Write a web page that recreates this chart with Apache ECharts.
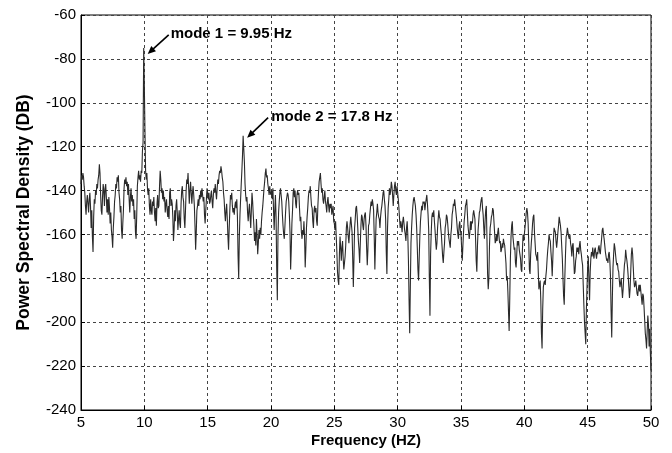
<!DOCTYPE html>
<html>
<head>
<meta charset="utf-8">
<script src="https://cdn.jsdelivr.net/npm/echarts/dist/echarts.min.js"></script>
<style>
  html, body { margin: 0; padding: 0; background: #fff; }
  #chart { width: 672px; height: 453px; }
</style>
</head>
<body>
<div id="chart"></div>
<script>
// Power spectral density estimate, sampled every 0.05 Hz from 5 Hz to 50 Hz (dB).
const freqStart = 5;
const freqStep = 0.05;

const psd05to10 = [
  -137,-133,-135,-132,-134,-138,-141,-147,-151,-145,-142,-146,-150,-144,-141,-147,-157,-149,-161,-168,
  -152,-144,-146,-140,-142,-137,-139,-135,-133,-128,-132,-142,-149,-151,-143,-137,-140,-147,-139,-137,
  -143,-150,-144,-151,-143,-148,-155,-150,-158,-161,-166,-157,-152,-145,-142,-137,-139,-134,-136,-133,
  -141,-144,-150,-147,-158,-162,-155,-149,-139,-135,-137,-134,-138,-136,-142,-137,-144,-150,-143,-139,
  -145,-142,-147,-144,-153,-149,-159,-162,-151,-138,-134,-131,-135,-133,-136,-131,-132,-122,-118,-75
];
const psd10to15 = [
  -92,-113,-131,-135,-132,-139,-142,-139,-147,-151,-144,-149,-151,-145,-147,-143,-150,-154,-148,-156,
  -146,-142,-148,-147,-138,-131,-135,-141,-139,-144,-140,-145,-143,-150,-146,-144,-149,-152,-147,-153,
  -141,-139,-147,-144,-146,-152,-163,-158,-149,-154,-147,-144,-150,-158,-153,-149,-155,-157,-146,-140,
  -138,-143,-145,-153,-157,-149,-140,-135,-137,-132,-139,-146,-140,-136,-141,-146,-141,-138,-142,-147,
  -156,-167,-159,-149,-147,-144,-147,-142,-144,-140,-143,-139,-142,-145,-143,-151,-155,-149,-144,-139
];
const psd15to20 = [
  -141,-144,-141,-146,-145,-142,-140,-145,-148,-142,-139,-141,-137,-141,-144,-139,-135,-137,-133,-131,
  -132,-129,-131,-134,-136,-141,-144,-150,-154,-149,-146,-153,-161,-167,-157,-149,-142,-144,-141,-147,
  -150,-148,-151,-147,-145,-148,-144,-152,-170,-180,-161,-151,-144,-137,-131,-124,-115,-121,-127,-137,
  -142,-145,-143,-150,-154,-149,-146,-152,-157,-149,-141,-145,-151,-156,-163,-159,-165,-153,-160,-169,
  -164,-158,-162,-157,-160,-154,-150,-147,-143,-139,-136,-132,-130,-134,-133,-137,-139,-142,-138,-141
];
const psd20to25 = [
  -142,-140,-144,-139,-149,-158,-149,-142,-152,-175,-190,-161,-150,-145,-141,-139,-142,-145,-151,-156,
  -160,-162,-156,-150,-145,-143,-141,-142,-145,-151,-159,-176,-167,-155,-149,-141,-139,-143,-140,-146,
  -148,-142,-140,-142,-141,-148,-154,-152,-159,-162,-158,-160,-154,-161,-175,-167,-157,-152,-148,-143,
  -140,-141,-138,-143,-147,-148,-154,-157,-149,-147,-150,-148,-154,-156,-147,-141,-136,-134,-132,-137,
  -141,-139,-144,-146,-143,-140,-145,-147,-150,-145,-143,-147,-150,-146,-148,-146,-151,-149,-147,-154
];
const psd25to30 = [
  -155,-158,-154,-161,-168,-177,-181,-183,-169,-161,-166,-172,-166,-163,-171,-176,-173,-170,-165,-157,
  -154,-157,-161,-164,-159,-155,-152,-152,-159,-171,-184,-171,-157,-153,-148,-147,-151,-157,-163,-167,
  -173,-164,-156,-151,-152,-156,-158,-153,-151,-150,-156,-166,-174,-167,-156,-155,-151,-148,-145,-147,
  -144,-146,-149,-161,-176,-164,-153,-150,-146,-150,-152,-153,-157,-152,-149,-147,-144,-141,-140,-144,
  -147,-153,-168,-178,-157,-148,-144,-139,-142,-140,-136,-138,-142,-147,-142,-138,-136,-140,-142,-138
];
const psd30to35 = [
  -141,-144,-148,-153,-157,-154,-156,-159,-154,-152,-155,-158,-160,-163,-157,-154,-160,-172,-190,-205,
  -184,-164,-157,-151,-147,-144,-143,-145,-147,-151,-157,-166,-176,-181,-171,-161,-154,-150,-147,-149,
  -145,-146,-145,-149,-146,-144,-142,-146,-151,-158,-180,-197,-169,-159,-152,-150,-152,-149,-154,-158,
  -163,-167,-164,-157,-153,-149,-152,-153,-157,-160,-165,-170,-173,-168,-164,-157,-155,-151,-152,-155,
  -159,-162,-164,-166,-160,-157,-151,-149,-146,-147,-144,-147,-150,-153,-157,-160,-162,-156,-154,-158
];
const psd35to40 = [
  -160,-166,-172,-165,-159,-154,-151,-147,-146,-144,-150,-156,-159,-162,-159,-154,-158,-154,-155,-151,
  -149,-151,-153,-162,-172,-177,-165,-158,-154,-150,-149,-146,-144,-143,-148,-151,-157,-162,-154,-149,
  -147,-162,-178,-185,-180,-165,-157,-155,-152,-151,-148,-149,-154,-159,-164,-163,-160,-163,-159,-157,
  -161,-164,-163,-168,-167,-164,-166,-162,-164,-165,-169,-173,-181,-179,-186,-195,-204,-189,-171,-161,
  -156,-154,-161,-164,-167,-166,-173,-175,-169,-163,-165,-163,-167,-169,-171,-176,-177,-167,-160,-163
];
const psd40to45 = [
  -163,-157,-154,-150,-148,-150,-155,-164,-176,-178,-169,-164,-160,-155,-152,-151,-159,-164,-169,-170,
  -172,-168,-177,-185,-183,-181,-190,-205,-212,-194,-184,-182,-181,-183,-179,-176,-171,-167,-164,-160,
  -162,-163,-168,-172,-179,-171,-162,-157,-158,-159,-163,-166,-163,-159,-156,-152,-152,-156,-159,-165,
  -171,-180,-188,-192,-179,-169,-161,-160,-157,-159,-161,-162,-160,-164,-166,-170,-165,-164,-171,-178,
  -177,-172,-170,-166,-168,-166,-169,-165,-163,-167,-169,-172,-174,-183,-192,-200,-205,-210,-194,-184
];
const psd45to50 = [
  -175,-170,-181,-190,-177,-171,-168,-170,-166,-169,-171,-167,-166,-169,-171,-168,-169,-166,-165,-168,
  -169,-165,-162,-158,-157,-160,-162,-165,-168,-170,-172,-171,-173,-169,-168,-172,-179,-195,-207,-189,
  -175,-169,-164,-166,-169,-172,-174,-173,-176,-177,-181,-184,-182,-180,-185,-189,-185,-179,-174,-172,
  -167,-170,-172,-175,-179,-184,-189,-185,-177,-169,-166,-169,-175,-181,-184,-183,-181,-184,-187,-188,
  -185,-183,-186,-183,-186,-189,-192,-187,-188,-193,-199,-205,-208,-212,-204,-197,-201,-211,-203,-214,
  -222
];

// Identified structural modes (frequency in Hz)
const modeLabels = ['mode 1 = 9.95 Hz', 'mode 2 = 17.8 Hz'];
const modeFreqs = [9.95, 17.8];

const psd = [].concat(psd05to10, psd10to15, psd15to20, psd20to25, psd25to30,
                      psd30to35, psd35to40, psd40to45, psd45to50);
const seriesData = psd.map((v, i) => [+(freqStart + i * freqStep).toFixed(2), v]);

const FONT = '"Liberation Sans", Arial, Helvetica, sans-serif';

const chart = echarts.init(document.getElementById('chart'), null, { renderer: 'canvas' });

chart.setOption({
  animation: false,
  backgroundColor: '#ffffff',
  grid: {
    left: 81, right: 21, top: 15, bottom: 43,
    outerBoundsMode: 'none',
    containLabel: false,
    show: true, borderColor: '#000', borderWidth: 1, backgroundColor: 'transparent'
  },
  xAxis: {
    type: 'value', min: 5, max: 50, interval: 5,
    name: 'Frequency (HZ)', nameLocation: 'middle', nameGap: 23,
    nameMoveOverlap: false,
    nameTextStyle: { fontFamily: FONT, fontSize: 15, fontWeight: 'bold', color: '#000' },
    axisLine: { show: true, lineStyle: { color: '#000', width: 1 } },
    axisTick: { show: true, inside: true, length: 4, lineStyle: { color: '#000' } },
    axisLabel: { fontFamily: FONT, fontSize: 15, color: '#000', margin: 5 },
    splitLine: { show: true, lineStyle: { color: '#444', type: [3, 3], width: 1 } }
  },
  yAxis: {
    type: 'value', min: -240, max: -60, interval: 20,
    name: 'Power Spectral Density (DB)', nameLocation: 'middle', nameGap: 48,
    nameMoveOverlap: false,
    nameTextStyle: { fontFamily: FONT, fontSize: 17.5, fontWeight: 'bold', color: '#000' },
    axisLine: { show: true, lineStyle: { color: '#000', width: 1 } },
    axisTick: { show: true, inside: true, length: 4, lineStyle: { color: '#000' } },
    axisLabel: { fontFamily: FONT, fontSize: 15, color: '#000', margin: 5 },
    splitLine: { show: true, lineStyle: { color: '#444', type: [3, 3], width: 1 } }
  },
  series: [{
    type: 'line',
    data: seriesData,
    showSymbol: false,
    symbol: 'none',
    lineStyle: { color: '#2a2a2a', width: 1.1 },
    clip: true
  }]
});

// Arrow annotations pointing at the mode peaks
const annotationLayout = [
  { tip: [4, 6], tail: [25, -13], text: [27, -14] },
  { tip: [4, 2], tail: [25, -18], text: [28, -19] }
];

function levelAt(freq) {
  const idx = Math.round((freq - freqStart) / freqStep);
  return psd[idx];
}

const graphics = [];
modeFreqs.forEach((f, k) => {
  const p = chart.convertToPixel({ gridIndex: 0 }, [f, levelAt(f)]);
  const lay = annotationLayout[k];
  const tip = [p[0] + lay.tip[0], p[1] + lay.tip[1]];
  const tail = [p[0] + lay.tail[0], p[1] + lay.tail[1]];
  const dx = tip[0] - tail[0], dy = tip[1] - tail[1];
  const len = Math.hypot(dx, dy);
  const ux = dx / len, uy = dy / len;
  const nx = -uy, ny = ux;
  const headLen = 8, headHalf = 3.5;
  const base = [tip[0] - ux * headLen, tip[1] - uy * headLen];
  graphics.push({
    type: 'line',
    shape: { x1: tail[0], y1: tail[1], x2: base[0] + ux * 2, y2: base[1] + uy * 2 },
    style: { stroke: '#000', lineWidth: 1.6 },
    z: 100
  });
  graphics.push({
    type: 'polygon',
    shape: { points: [tip, [base[0] + nx * headHalf, base[1] + ny * headHalf], [base[0] - nx * headHalf, base[1] - ny * headHalf]] },
    style: { fill: '#000' },
    z: 100
  });
  graphics.push({
    type: 'text',
    x: p[0] + lay.text[0],
    y: p[1] + lay.text[1],
    style: {
      text: modeLabels[k],
      font: 'bold 15px ' + FONT,
      fill: '#000',
      align: 'left',
      verticalAlign: 'middle'
    },
    z: 100
  });
});

chart.setOption({ graphic: graphics });
</script>
</body>
</html>
